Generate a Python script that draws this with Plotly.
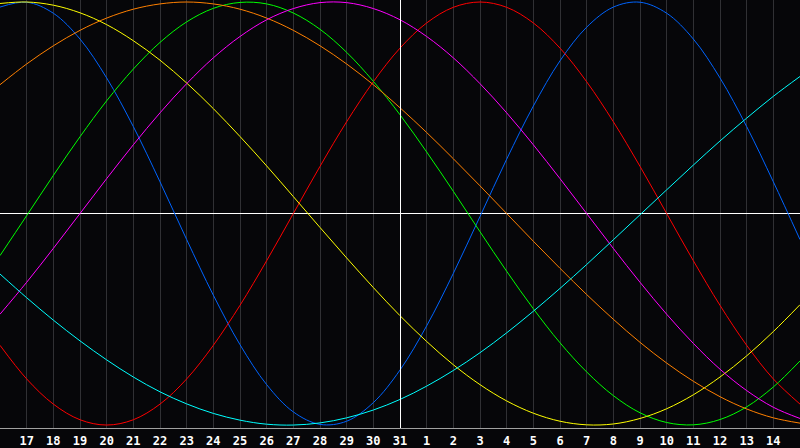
import plotly.graph_objects as go

# day labels (index 0 = 16th, index 30 = 15th of next month)
days = [16, 17, 18, 19, 20, 21, 22, 23, 24, 25, 26, 27, 28, 29, 30, 31,
        1, 2, 3, 4, 5, 6, 7, 8, 9, 10, 11, 12, 13, 14, 15]
today_label = 31

# values (percent, -100..100), one per day
physical = [97.6, 99.9, 94.7, 82.5, 64.1, 41.1, 15.0, -12.3, -38.6, -62.0, -80.9, -93.8, -99.7, -98.2,
            -89.4, -74.0, -53.1, -28.3, -1.4, 25.7, 50.8, 72.2, 88.1, 97.6, 99.9, 94.7, 82.5, 64.1,
            41.1, 15.0, -12.3]
emotional = [-62.3, -78.2, -90.1, -97.5, -100, -97.5, -90.1, -78.2, -62.3, -43.4, -22.3, 0, 22.3, 43.4,
             62.3, 78.2, 90.1, 97.5, 100, 97.5, 90.1, 78.2, 62.3, 43.4, 22.3, 0, -22.3, -43.4, -62.3,
             -78.2, -90.1]
intellectual = [-19.9, -1.0, 18.0, 36.3, 53.3, 68.3, 80.9, 90.6, 97.0, 99.8, 99.1, 94.8, 87.1, 76.2,
                62.5, 46.7, 29.1, 10.5, -8.6, -27.3, -45.0, -61.1, -74.9, -86.1, -94.2, -98.8, -99.9,
                -97.4, -91.4, -82.0, -69.7]
intuitive = [99.3, 100.0, 98.5, 94.9, 89.3, 81.7, 72.5, 61.7, 49.6, 36.4, 22.5, 8.0, -6.6, -21.0,
             -35.0, -48.3, -60.5, -71.5, -80.9, -88.6, -94.4, -98.2, -99.9, -99.5, -96.9, -92.3, -85.7,
             -77.3, -67.3, -55.8, -43.1]
aesthetic = [60.9, 70.7, 79.3, 86.6, 92.4, 96.6, 99.1, 100, 99.1, 96.6, 92.4, 86.6, 79.3, 70.7,
             60.9, 50.0, 38.3, 25.9, 13.1, 0, -13.1, -25.9, -38.3, -50.0, -60.9, -70.7, -79.3, -86.6,
             -92.4, -96.6, -99.1]
awareness = [-47.6, -32.5, -16.5, 0, 16.5, 32.5, 47.6, 61.4, 73.6, 83.7, 91.6, 96.9, 99.7, 99.7,
             96.9, 91.6, 83.7, 73.6, 61.4, 47.6, 32.5, 16.5, 0, -16.5, -32.5, -47.6, -61.4, -73.6,
             -83.7, -91.6, -96.9]
spiritual = [-28.6, -39.8, -50.4, -60.2, -69.2, -77.3, -84.3, -90.0, -94.5, -97.7, -99.6, -100.0, -99.0,
             -96.6, -92.9, -87.9, -81.6, -74.2, -65.8, -56.4, -46.2, -35.4, -24.1, -12.4, -0.6, 11.2,
             22.9, 34.3, 45.1, 55.4, 64.8]

series = [
    ("Physical", physical, "#0064ff"),
    ("Emotional", emotional, "#ff0000"),
    ("Intellectual", intellectual, "#00ff00"),
    ("Intuitive", intuitive, "#ffff00"),
    ("Aesthetic", aesthetic, "#ff8000"),
    ("Awareness", awareness, "#ff00ff"),
    ("Spiritual", spiritual, "#00ffff"),
]

idx = list(range(len(days)))
fig = go.Figure()
for name, vals, col in series:
    fig.add_trace(go.Scatter(x=idx, y=vals, mode="lines", name=name,
                             line=dict(color=col, width=1, shape="spline", smoothing=1.0),
                             hoverinfo="skip"))

# today marker, nudged half a pixel so it renders crisp
today_idx = days.index(today_label)
half_px = 0.5 * (len(days) - 1) / 800
fig.add_shape(type="line", xref="x", yref="paper", x0=today_idx + half_px, x1=today_idx + half_px,
              y0=0, y1=1, line=dict(color="#ffffff", width=1), layer="above")

bg = "#060609"
fig.update_layout(
    width=800, height=448,
    margin=dict(l=0, r=0, t=0, b=20, pad=0),
    paper_bgcolor=bg, plot_bgcolor=bg,
    showlegend=False,
    xaxis=dict(range=[0, len(days) - 1], tickvals=idx[1:-1], ticktext=[str(d) for d in days[1:-1]],
               showgrid=True, gridcolor="#303034", gridwidth=1, zeroline=False,
               showline=True, mirror=True, linecolor="#a0a0a0", linewidth=1,
               ticks="", ticklabelstandoff=2,
               tickfont=dict(family="DejaVu Sans Mono", size=12, color="#ffffff", weight="bold"),
               fixedrange=True, automargin=False),
    yaxis=dict(range=[-101.4, 100.95], showgrid=False, showticklabels=False, ticks="",
               zeroline=True, zerolinecolor="#ffffff", zerolinewidth=1,
               showline=True, mirror=True, linecolor="#a0a0a0", linewidth=1,
               fixedrange=True, automargin=False),
)

fig.write_html("out.html", config={"displayModeBar": False},
               post_script="document.body.style.margin='0';document.body.style.background='#060609';")
